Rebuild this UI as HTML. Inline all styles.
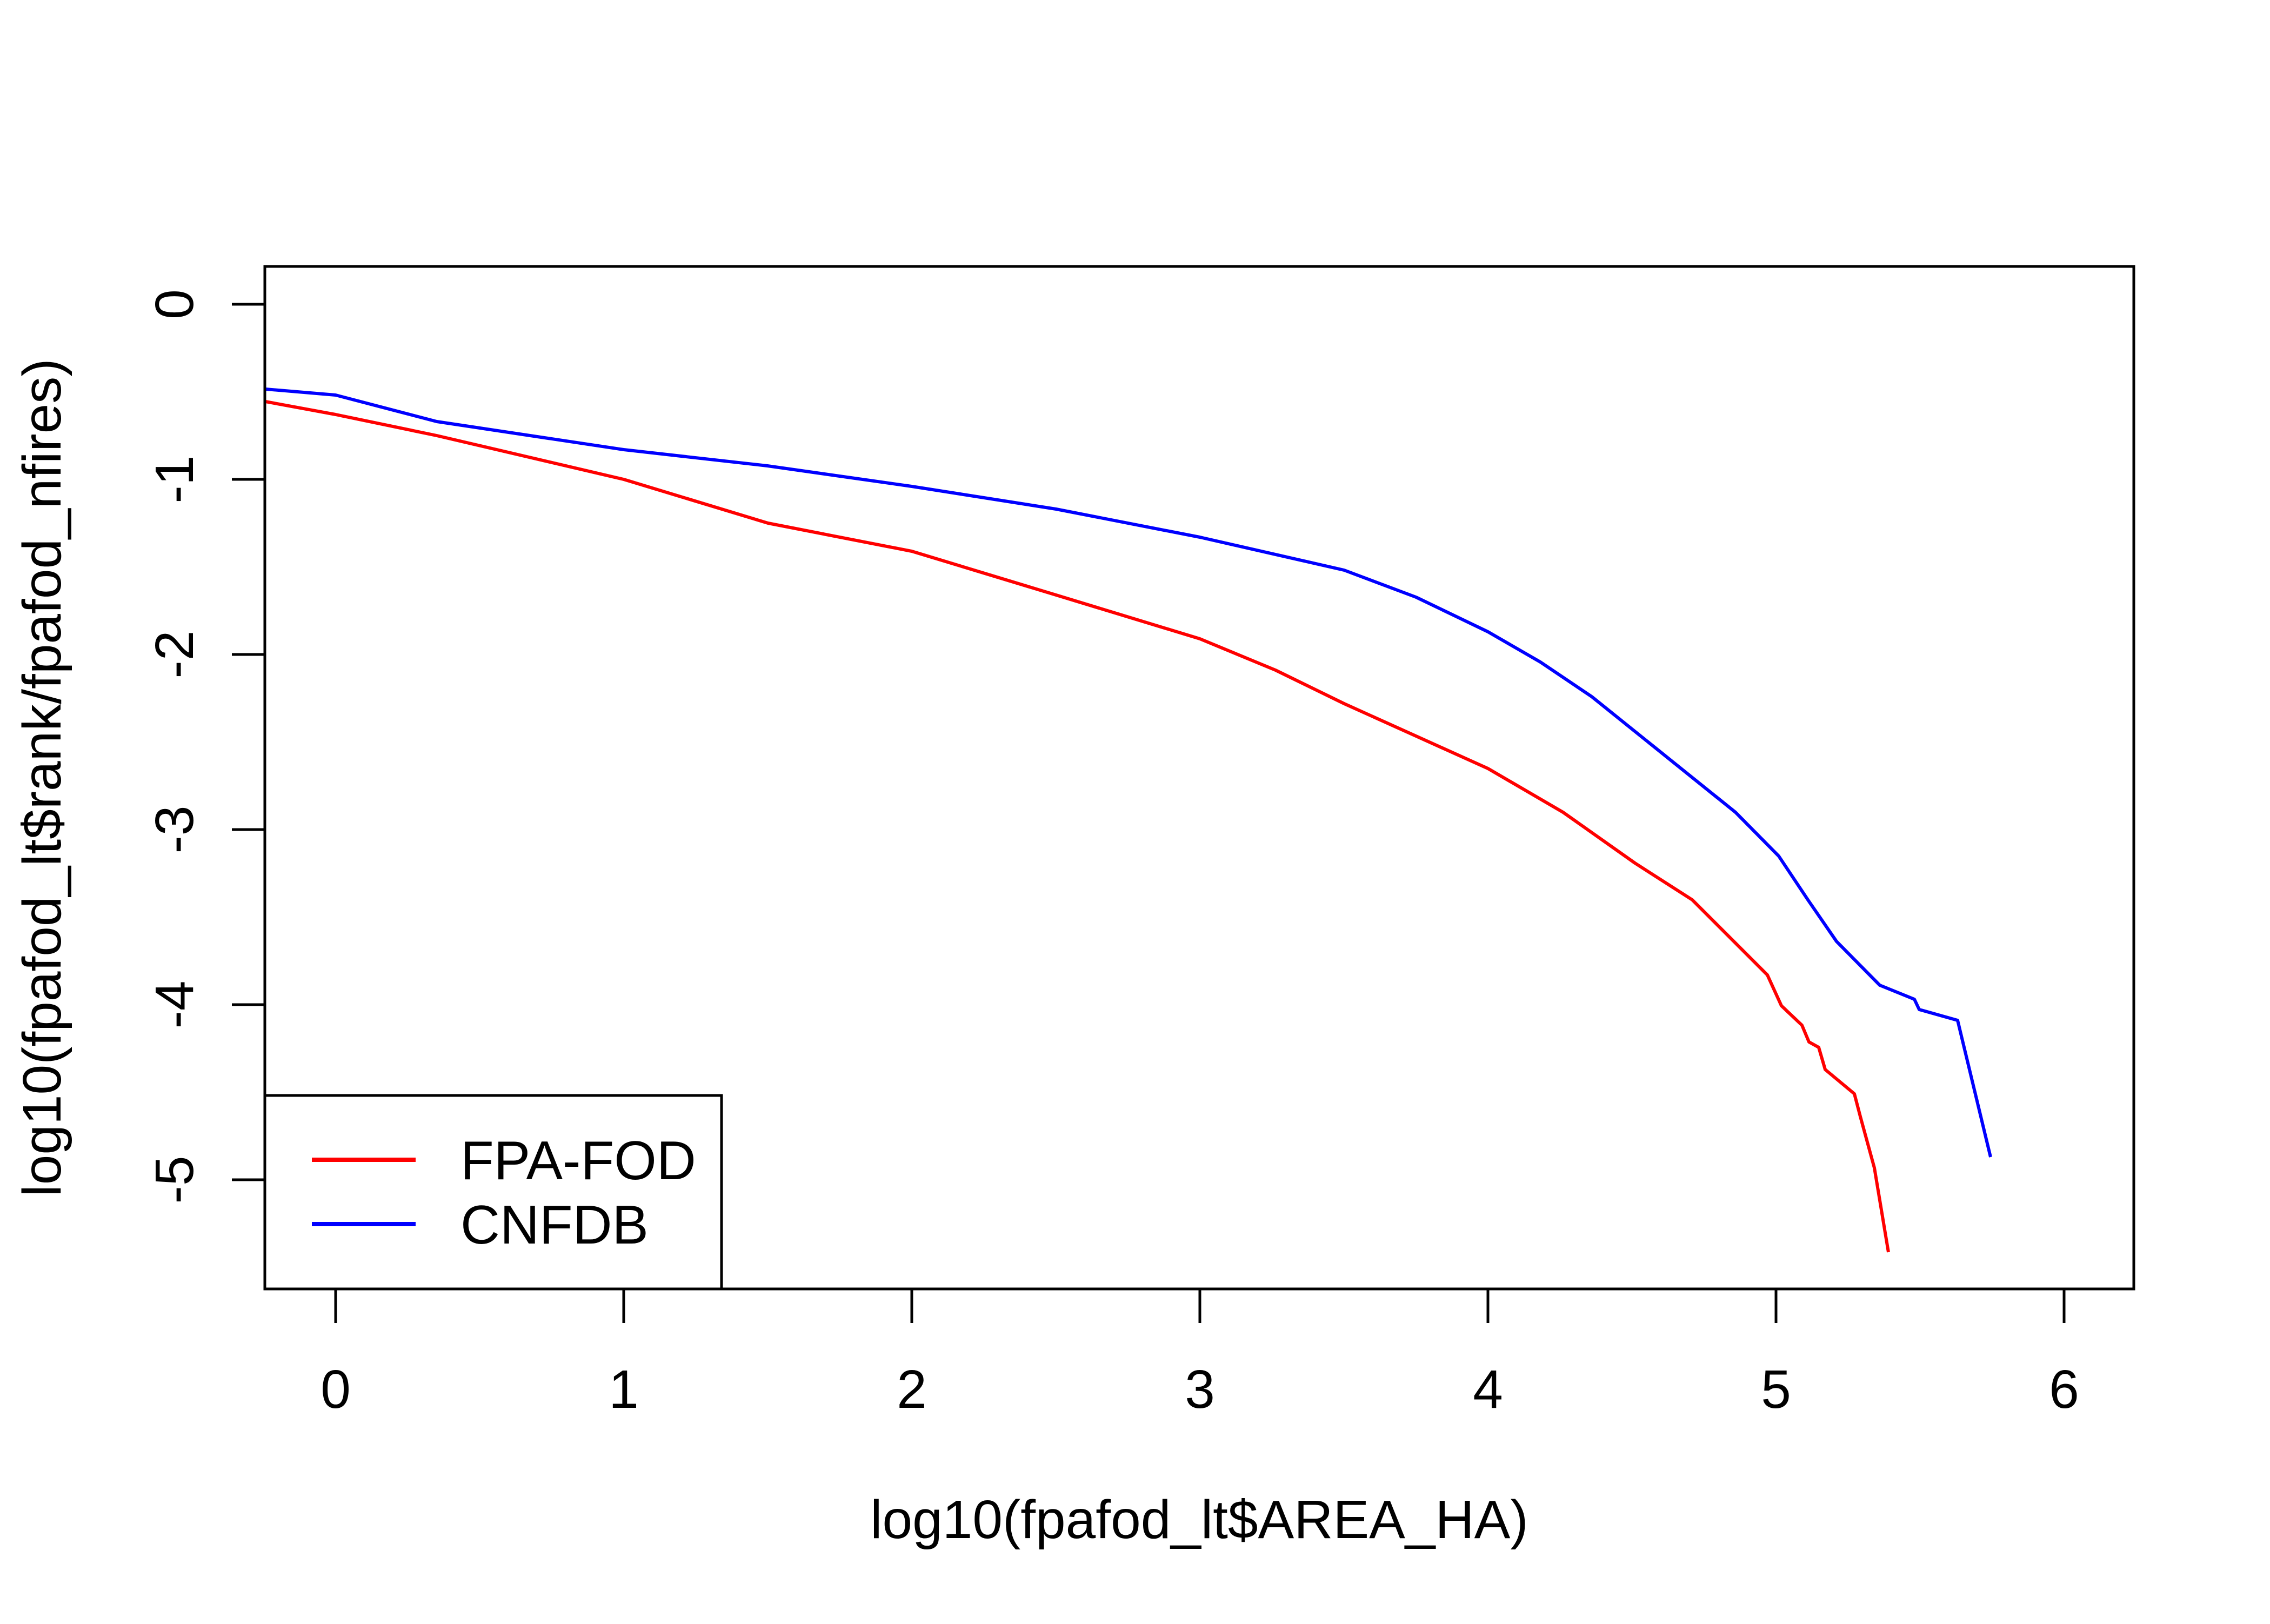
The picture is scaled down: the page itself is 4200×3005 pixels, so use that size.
<!DOCTYPE html>
<html><head><style>body{margin:0;background:#fff}</style></head><body>
<svg width="4200" height="3000" xmlns="http://www.w3.org/2000/svg" font-family="Liberation Sans, Arial, sans-serif">
<rect width="4200" height="3000" fill="#fff"/>
<defs><clipPath id="c"><rect x="490" y="493" width="3458" height="1892"/></clipPath></defs>
<g clip-path="url(#c)" fill="none" stroke-width="6" stroke-linejoin="round">
<polyline stroke="#0000ff" points="480,719 621,731 808,780 1154,832 1420,862 1687,900 1954,942 2220,994 2487,1055 2620,1105 2753,1169 2850,1225 2945,1289 3078,1396 3211,1503 3291,1584 3345,1665 3398,1742 3478,1823 3542,1849 3551,1868 3622,1888 3683,2141"/>
<polyline stroke="#ff0000" points="480,741 621,767 808,806 1154,887 1421,968 1687,1020 1954,1101 2220,1182 2360,1240 2487,1302 2620,1362 2753,1422 2892,1503 3025,1597 3131,1665 3200,1734 3270,1804 3296,1861 3334,1897 3347,1928 3365,1938 3377,1979 3431,2024 3442,2066 3468,2161 3494,2317"/>
</g>
<rect x="490" y="493" width="3458" height="1892" fill="none" stroke="#000" stroke-width="5"/>
<g stroke="#000" stroke-width="5">
<line x1="429" y1="563" x2="490" y2="563"/><line x1="429" y1="887" x2="490" y2="887"/><line x1="429" y1="1211" x2="490" y2="1211"/><line x1="429" y1="1535" x2="490" y2="1535"/><line x1="429" y1="1859" x2="490" y2="1859"/><line x1="429" y1="2183" x2="490" y2="2183"/>
<line x1="621" y1="2385" x2="621" y2="2448"/><line x1="1154" y1="2385" x2="1154" y2="2448"/><line x1="1687" y1="2385" x2="1687" y2="2448"/><line x1="2220" y1="2385" x2="2220" y2="2448"/><line x1="2753" y1="2385" x2="2753" y2="2448"/><line x1="3286" y1="2385" x2="3286" y2="2448"/><line x1="3819" y1="2385" x2="3819" y2="2448"/>
</g>
<g font-size="100" text-anchor="middle" fill="#000">
<text x="621" y="2605">0</text><text x="1154" y="2605">1</text><text x="1687" y="2605">2</text><text x="2220" y="2605">3</text><text x="2753" y="2605">4</text><text x="3286" y="2605">5</text><text x="3819" y="2605">6</text>
<text transform="translate(357,563) rotate(-90)">0</text>
<text transform="translate(357,887) rotate(-90)">-1</text>
<text transform="translate(357,1211) rotate(-90)">-2</text>
<text transform="translate(357,1535) rotate(-90)">-3</text>
<text transform="translate(357,1859) rotate(-90)">-4</text>
<text transform="translate(357,2183) rotate(-90)">-5</text>
<text x="2219" y="2846">log10(fpafod_lt$AREA_HA)</text>
<text transform="translate(112,1439) rotate(-90)">log10(fpafod_lt$rank/fpafod_nfires)</text>
</g>
<rect x="490" y="2027" width="845" height="358" fill="#fff" stroke="#000" stroke-width="5"/>
<line x1="577" y1="2146" x2="769" y2="2146" stroke="#ff0000" stroke-width="8"/>
<line x1="577" y1="2265" x2="769" y2="2265" stroke="#0000ff" stroke-width="8"/>
<g font-size="101" fill="#000">
<text x="852" y="2182">FPA-FOD</text>
<text x="852" y="2301">CNFDB</text>
</g>
</svg>
</body></html>
